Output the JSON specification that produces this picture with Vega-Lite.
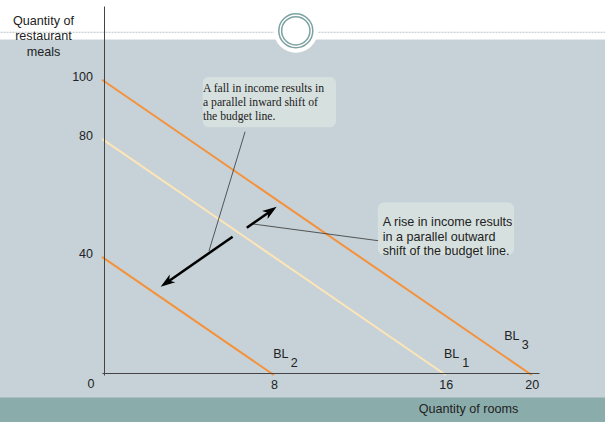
{
  "$schema": "https://vega.github.io/schema/vega-lite/v6.json",
  "width": 437,
  "height": 369,
  "autosize": {"type": "none"},
  "padding": {"left": 102, "top": 6, "right": 66, "bottom": 47},
  "background": "#c6d2d8",
  "config": {
    "view": {"stroke": null},
    "font": "Liberation Sans",
    "text": {"font": "Liberation Sans", "fontSize": 12.5, "color": "#222222"}
  },
  "layer": [
    {
      "description": "white header band",
      "data": {"values": [{}]},
      "mark": {"type": "rect", "color": "#ffffff"},
      "encoding": {
        "x": {"datum": -5, "type": "quantitative"},
        "x2": {"datum": 24},
        "y": {"datum": 128, "type": "quantitative"},
        "y2": {"datum": 113.65}
      }
    },
    {
      "description": "teal footer band",
      "data": {"values": [{}]},
      "mark": {"type": "rect", "color": "#8aacab"},
      "encoding": {
        "x": {"datum": -5, "type": "quantitative"},
        "x2": {"datum": 24},
        "y": {"datum": -7.62, "type": "quantitative"},
        "y2": {"datum": -16.5}
      }
    },
    {
      "description": "dotted header rule",
      "data": {"values": [{}]},
      "mark": {"type": "rule", "color": "#b9c3c3", "strokeWidth": 1, "strokeDash": [2, 1]},
      "encoding": {
        "x": {"datum": -5, "type": "quantitative"},
        "x2": {"datum": 24},
        "y": {"datum": 116.1, "type": "quantitative"}
      }
    },
    {
      "description": "header emblem: white disk and double ring",
      "data": {"values": [{}]},
      "mark": {"type": "point", "shape": "circle", "filled": true, "color": "#ffffff", "opacity": 1, "size": 1936},
      "encoding": {
        "x": {"datum": 9.02, "type": "quantitative"},
        "y": {"datum": 116.6, "type": "quantitative"}
      }
    },
    {
      "data": {"values": [{}]},
      "mark": {"type": "point", "shape": "circle", "filled": false, "stroke": "#7ea1a1", "strokeWidth": 1.5, "opacity": 1, "size": 1156},
      "encoding": {
        "x": {"datum": 9.02, "type": "quantitative"},
        "y": {"datum": 116.6, "type": "quantitative"}
      }
    },
    {
      "data": {"values": [{}]},
      "mark": {"type": "point", "shape": "circle", "filled": false, "stroke": "#7ea1a1", "strokeWidth": 1.5, "opacity": 1, "size": 800},
      "encoding": {
        "x": {"datum": 9.02, "type": "quantitative"},
        "y": {"datum": 116.6, "type": "quantitative"}
      }
    },
    {
      "description": "annotation boxes",
      "data": {"values": [{}]},
      "mark": {"type": "rect", "color": "#d6e0df", "cornerRadius": 6},
      "encoding": {
        "x": {"datum": 4.69, "type": "quantitative"},
        "x2": {"datum": 10.89},
        "y": {"datum": 100.95, "type": "quantitative"},
        "y2": {"datum": 83.9}
      }
    },
    {
      "data": {"values": [{}]},
      "mark": {"type": "rect", "color": "#d6e0df", "cornerRadius": 6},
      "encoding": {
        "x": {"datum": 12.84, "type": "quantitative"},
        "x2": {"datum": 19.18},
        "y": {"datum": 58.4, "type": "quantitative"},
        "y2": {"datum": 40.65}
      }
    },
    {
      "description": "budget lines",
      "data": {
        "values": [
          {"line": "BL1", "rooms": 0, "meals": 80},
          {"line": "BL1", "rooms": 16, "meals": 0},
          {"line": "BL2", "rooms": 0, "meals": 40},
          {"line": "BL2", "rooms": 8, "meals": 0},
          {"line": "BL3", "rooms": 0, "meals": 100},
          {"line": "BL3", "rooms": 20, "meals": 0}
        ]
      },
      "mark": {"type": "line", "strokeWidth": 2},
      "encoding": {
        "x": {
          "field": "rooms",
          "type": "quantitative",
          "scale": {"domain": [0, 20.34], "nice": false, "zero": false},
          "axis": {
            "values": [8, 16, 20],
            "ticks": false,
            "tickSize": 0,
            "grid": false,
            "offset": -2,
            "zindex": 1,
            "domainColor": "#444444",
            "domainWidth": 1,
            "labelFlush": false,
            "labelPadding": 5.4,
            "labelFont": "Liberation Sans",
            "labelFontSize": 12.5,
            "labelColor": "#222222",
            "title": "Quantity of rooms",
            "titleFont": "Liberation Sans",
            "titleFontSize": 12.6,
            "titleFontWeight": "normal",
            "titleColor": "#222222",
            "titleAlign": "center",
            "titleBaseline": "alphabetic",
            "titleX": 366,
            "titleY": 39.5
          }
        },
        "y": {
          "field": "meals",
          "type": "quantitative",
          "scale": {"domain": [0, 125], "nice": false, "zero": false},
          "axis": {
            "values": [40, 80, 100],
            "ticks": false,
            "tickSize": 0,
            "grid": false,
            "offset": -2,
            "zindex": 1,
            "domainColor": "#444444",
            "domainWidth": 1,
            "labelPadding": 11.5,
            "labelOffset": -3,
            "labelFont": "Liberation Sans",
            "labelFontSize": 12.5,
            "labelColor": "#222222",
            "title": ["Quantity of", "restaurant", "meals"],
            "titleFont": "Liberation Sans",
            "titleFontSize": 12.6,
            "titleFontWeight": "normal",
            "titleColor": "#222222",
            "titleAngle": 0,
            "titleAlign": "center",
            "titleBaseline": "top",
            "titleLineHeight": 15.5,
            "titleX": -61,
            "titleY": 8
          }
        },
        "color": {
          "field": "line",
          "type": "nominal",
          "scale": {"domain": ["BL1", "BL2", "BL3"], "range": ["#fde5b6", "#f5913a", "#f5913a"]},
          "legend": null
        }
      }
    },
    {
      "description": "leader lines from the notes",
      "data": {"values": [{}]},
      "mark": {"type": "rule", "color": "#333333", "strokeWidth": 0.8},
      "encoding": {
        "x": {"datum": 6.66, "type": "quantitative"},
        "y": {"datum": 82.4, "type": "quantitative"},
        "x2": {"datum": 4.98},
        "y2": {"datum": 42.0}
      }
    },
    {
      "data": {"values": [{}]},
      "mark": {"type": "rule", "color": "#333333", "strokeWidth": 0.8},
      "encoding": {
        "x": {"datum": 7.03, "type": "quantitative"},
        "y": {"datum": 51.15, "type": "quantitative"},
        "x2": {"datum": 12.85},
        "y2": {"datum": 45.5}
      }
    },
    {
      "description": "shift arrows: shafts",
      "data": {"values": [{}]},
      "mark": {"type": "rule", "color": "#000000", "strokeWidth": 2.5},
      "encoding": {
        "x": {"datum": 6.74, "type": "quantitative"},
        "y": {"datum": 49.9, "type": "quantitative"},
        "x2": {"datum": 7.87},
        "y2": {"datum": 55.66}
      }
    },
    {
      "data": {"values": [{}]},
      "mark": {"type": "rule", "color": "#000000", "strokeWidth": 2.5},
      "encoding": {
        "x": {"datum": 6.08, "type": "quantitative"},
        "y": {"datum": 46.85, "type": "quantitative"},
        "x2": {"datum": 3.0},
        "y2": {"datum": 31.27}
      }
    },
    {
      "description": "shift arrows: heads",
      "data": {"values": [{}]},
      "mark": {"type": "point", "shape": "M0,0L0.6,1.8L0,1.3L-0.6,1.8Z", "filled": true, "color": "#000000", "opacity": 1, "size": 260, "angle": 55},
      "encoding": {
        "x": {"datum": 8.13, "type": "quantitative"},
        "y": {"datum": 57.0, "type": "quantitative"}
      }
    },
    {
      "data": {"values": [{}]},
      "mark": {"type": "point", "shape": "M0,0L0.6,1.8L0,1.3L-0.6,1.8Z", "filled": true, "color": "#000000", "opacity": 1, "size": 260, "angle": 235},
      "encoding": {
        "x": {"datum": 2.73, "type": "quantitative"},
        "y": {"datum": 29.9, "type": "quantitative"}
      }
    },
    {
      "description": "note on a fall in income",
      "data": {"values": [{}]},
      "mark": {"type": "text", "align": "left", "baseline": "top", "font": "Liberation Serif", "fontSize": 11.7, "lineHeight": 14, "color": "#222222"},
      "encoding": {
        "x": {"datum": 4.7, "type": "quantitative"},
        "y": {"datum": 98.76, "type": "quantitative"},
        "text": {"value": ["A fall in income results in", "a parallel inward shift of", "the budget line."]}
      }
    },
    {
      "description": "note on a rise in income",
      "data": {"values": [{}]},
      "mark": {"type": "text", "align": "left", "baseline": "top", "font": "Liberation Sans", "fontSize": 12.6, "lineHeight": 14.7, "color": "#222222"},
      "encoding": {
        "x": {"datum": 13.07, "type": "quantitative"},
        "y": {"datum": 53.86, "type": "quantitative"},
        "text": {"value": ["A rise in income results", "in a parallel outward", "shift of the budget line."]}
      }
    },
    {
      "description": "budget line names with subscripts",
      "data": {"values": [{}]},
      "mark": {"type": "text", "align": "left", "baseline": "alphabetic"},
      "encoding": {"x": {"datum": 7.97, "type": "quantitative"}, "y": {"datum": 5.86, "type": "quantitative"}, "text": {"value": "BL"}}
    },
    {
      "data": {"values": [{}]},
      "mark": {"type": "text", "align": "left", "baseline": "alphabetic"},
      "encoding": {"x": {"datum": 8.78, "type": "quantitative"}, "y": {"datum": 2.61, "type": "quantitative"}, "text": {"value": "2"}}
    },
    {
      "data": {"values": [{}]},
      "mark": {"type": "text", "align": "left", "baseline": "alphabetic"},
      "encoding": {"x": {"datum": 15.92, "type": "quantitative"}, "y": {"datum": 5.86, "type": "quantitative"}, "text": {"value": "BL"}}
    },
    {
      "data": {"values": [{}]},
      "mark": {"type": "text", "align": "left", "baseline": "alphabetic"},
      "encoding": {"x": {"datum": 16.77, "type": "quantitative"}, "y": {"datum": 2.61, "type": "quantitative"}, "text": {"value": "1"}}
    },
    {
      "data": {"values": [{}]},
      "mark": {"type": "text", "align": "left", "baseline": "alphabetic"},
      "encoding": {"x": {"datum": 18.72, "type": "quantitative"}, "y": {"datum": 11.86, "type": "quantitative"}, "text": {"value": "BL"}}
    },
    {
      "data": {"values": [{}]},
      "mark": {"type": "text", "align": "left", "baseline": "alphabetic"},
      "encoding": {"x": {"datum": 19.54, "type": "quantitative"}, "y": {"datum": 8.71, "type": "quantitative"}, "text": {"value": "3"}}
    },
    {
      "description": "origin label",
      "data": {"values": [{}]},
      "mark": {"type": "text", "align": "center", "baseline": "alphabetic", "dx": -11, "dy": 13.3},
      "encoding": {"x": {"datum": 0, "type": "quantitative"}, "y": {"datum": 0, "type": "quantitative"}, "text": {"value": "0"}}
    }
  ]
}
